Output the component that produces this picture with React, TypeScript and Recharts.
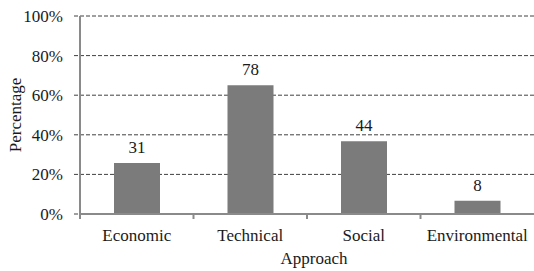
import { Bar, BarChart, CartesianGrid, LabelList, XAxis, YAxis } from "recharts";

const approaches = ["Economic", "Technical", "Social", "Environmental"];
const counts = [31, 78, 44, 8];
const percents = [25.8, 65.0, 36.7, 6.7];
const yTicks = [0, 20, 40, 60, 80, 100];

const FONT = "'Liberation Serif', serif";
const FS = 17;
const TEXT = "#1a1a1a";
const AXIS = "#8a8a8a";
const GRID = "#404040";

const data = approaches.map((name, i) => ({
  name,
  pct: percents[i],
  count: counts[i],
}));

// Excel-style category axis: tick marks sit between categories, not under them.
function CategoryTick(props: any) {
  const { x, y, payload } = props;
  const half = payload?.offset ?? 56.75;
  const axisY = y - 15;
  return (
    <g>
      <line x1={x - half} x2={x - half} y1={axisY} y2={axisY + 5} stroke={AXIS} strokeWidth={2} />
      <text x={x} y={y} dy="0.71em" textAnchor="middle" fill={TEXT} fontFamily={FONT} fontSize={FS}>
        {payload.value}
      </text>
    </g>
  );
}

export default function App() {
  return (
    <div style={{ position: "fixed", left: 0, top: 0, background: "#fff" }}>
      <BarChart
        width={534}
        height={271}
        data={data}
        margin={{ top: 16, right: 0, bottom: 0, left: 0 }}
        barSize={46}
      >
        <CartesianGrid vertical={false} stroke={GRID} strokeDasharray="4 2" />
        <XAxis
          dataKey="name"
          height={57}
          tickLine={false}
          tickSize={5}
          tickMargin={10}
          axisLine={{ stroke: AXIS, strokeWidth: 2 }}
          tick={<CategoryTick />}
          interval={0}
          label={{
            value: "Approach",
            position: "insideBottom",
            offset: 7,
            dx: 7,
            fill: TEXT,
            fontFamily: FONT,
            fontSize: FS,
          }}
        />
        <YAxis
          width={80}
          domain={[0, 100]}
          ticks={yTicks}
          interval={0}
          tickFormatter={(v: number) => `${v}%`}
          tickSize={6}
          tickMargin={11}
          tickLine={{ stroke: GRID, strokeDasharray: "4 2" }}
          axisLine={{ stroke: AXIS, strokeWidth: 2 }}
          tick={{ fill: TEXT, fontFamily: FONT, fontSize: FS }}
          label={{
            value: "Percentage",
            angle: -90,
            position: "insideLeft",
            offset: 15,
            fill: TEXT,
            fontFamily: FONT,
            fontSize: FS,
            style: { textAnchor: "middle" },
          }}
        />
        <Bar dataKey="pct" fill="#7b7b7b" isAnimationActive={false}>
          <LabelList dataKey="count" position="top" offset={10} fill={TEXT} fontFamily={FONT} fontSize={FS} />
        </Bar>
      </BarChart>
    </div>
  );
}
